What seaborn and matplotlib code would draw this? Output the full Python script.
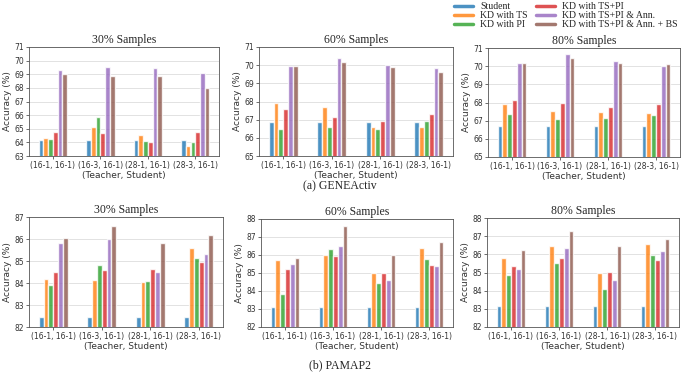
import pandas as pd
import matplotlib
matplotlib.use("Agg")
import matplotlib.pyplot as plt
from matplotlib.lines import Line2D
import seaborn as sns

sns.set_theme(style="whitegrid")
plt.rcParams['font.family'] = ['DejaVu Sans']

pairs = ['(16-1, 16-1)', '(16-3, 16-1)', '(28-1, 16-1)', '(28-3, 16-1)']
methods = ['Student', 'KD with TS', 'KD with PI', 'KD with TS+PI',
           'KD with TS+PI & Ann.', 'KD with TS+PI & Ann. + BS']

# one row per (Teacher, Student) pair, one value per method
gene_30 = [[64.15, 64.35, 64.25, 64.75, 69.30, 69.00],
           [64.15, 65.10, 65.85, 64.70, 69.50, 68.90],
           [64.15, 64.55, 64.10, 64.05, 69.45, 68.85],
           [64.15, 63.70, 64.05, 64.75, 69.10, 68.00]]
gene_60 = [[66.85, 67.90, 66.50, 67.60, 69.95, 69.95],
           [66.85, 67.70, 66.60, 67.15, 70.40, 70.20],
           [66.85, 66.60, 66.50, 66.90, 70.00, 69.90],
           [66.85, 66.60, 66.90, 67.30, 69.85, 69.60]]
gene_80 = [[66.70, 67.90, 67.35, 68.15, 70.15, 70.20],
           [66.70, 67.55, 67.10, 68.00, 70.65, 70.45],
           [66.70, 67.45, 67.15, 67.75, 70.30, 70.20],
           [66.70, 67.40, 67.30, 67.90, 70.00, 70.10]]
pamap_30 = [[82.45, 84.20, 83.90, 84.50, 85.80, 86.05],
            [82.45, 84.15, 84.80, 84.60, 86.00, 86.60],
            [82.45, 84.05, 84.10, 84.65, 84.50, 85.80],
            [82.45, 85.60, 85.15, 84.95, 85.30, 86.20]]
pamap_60 = [[83.10, 85.70, 83.85, 85.20, 85.50, 85.85],
            [83.10, 86.00, 86.35, 85.95, 86.50, 87.60],
            [83.10, 85.00, 84.45, 85.00, 84.60, 86.00],
            [83.10, 86.40, 85.80, 85.45, 85.40, 86.75]]
pamap_80 = [[83.15, 85.80, 84.85, 85.35, 85.20, 86.25],
            [83.15, 86.45, 85.50, 85.80, 86.35, 87.30],
            [83.15, 84.95, 84.10, 85.05, 84.60, 86.45],
            [83.15, 86.55, 85.95, 85.70, 86.20, 86.85]]

colors = sns.color_palette('tab10', 6)
serif = ['Liberation Serif', 'DejaVu Serif']

W, H = 685, 374
fig = plt.figure(figsize=(W / 100, H / 100), dpi=100)

# (values, title, ylim, pixel box: left, top, right, bottom)
panels = [
    (gene_30, '30% Samples', (63, 71), (29, 47, 219, 156)),
    (gene_60, '60% Samples', (65, 71), (259, 47, 453, 156)),
    (gene_80, '80% Samples', (65, 71), (488, 48, 680, 157)),
    (pamap_30, '30% Samples', (82, 87), (29, 217, 223, 327)),
    (pamap_60, '60% Samples', (82, 88), (261, 219, 453, 327)),
    (pamap_80, '80% Samples', (82, 88), (487, 218, 679, 327)),
]

for vals, title, ylim, (l, t, r, b) in panels:
    ax = fig.add_axes([l / W, 1 - b / H, (r - l) / W, (b - t) / H])
    rows = []
    for pair, row in zip(pairs, vals):
        for m, v in zip(methods, row):
            rows.append({'pair': pair, 'method': m, 'acc': v})
    df = pd.DataFrame(rows)
    sns.barplot(data=df, x='pair', y='acc', hue='method', hue_order=methods,
                palette=colors, width=0.6, saturation=1, alpha=0.8,
                legend=False, ax=ax)
    ax.set_ylim(*ylim)
    ax.set_yticks(range(ylim[0], ylim[1] + 1))
    ax.set_title(title, fontsize=8.5, family=serif, pad=3)
    ax.set_xlabel('(Teacher, Student)', fontsize=6.5, labelpad=1, color='#333333')
    ax.set_ylabel('Accuracy (%)', fontsize=6.5, labelpad=2, color='#333333')
    ax.tick_params(axis='both', labelsize=5.5, length=2, width=0.5, pad=1.5,
                   colors='#333333', left=True, bottom=True)
    ax.grid(axis='y', color='#dddddd', linewidth=0.6)
    ax.grid(axis='x', visible=False)
    for s in ax.spines.values():
        s.set_color('#555555')
        s.set_linewidth(0.6)

fig.text(340 / W, 1 - 186 / H, '(a) GENEActiv', ha='center', va='center',
         fontsize=8.5, family=serif)
fig.text(340 / W, 1 - 365 / H, '(b) PAMAP2', ha='center', va='center',
         fontsize=8.5, family=serif)

handles = [Line2D([0], [0], color=c, lw=2.5, alpha=0.8) for c in colors]
fig.legend(handles, methods, loc='upper left', bbox_to_anchor=(452 / W, 1.0),
           ncol=2, frameon=False, prop={'family': serif, 'size': 7},
           handlelength=2.0, handletextpad=0.7, columnspacing=0.8,
           labelspacing=0.0, borderaxespad=0.1, borderpad=0.1)

fig.savefig('out.png', dpi=100)
